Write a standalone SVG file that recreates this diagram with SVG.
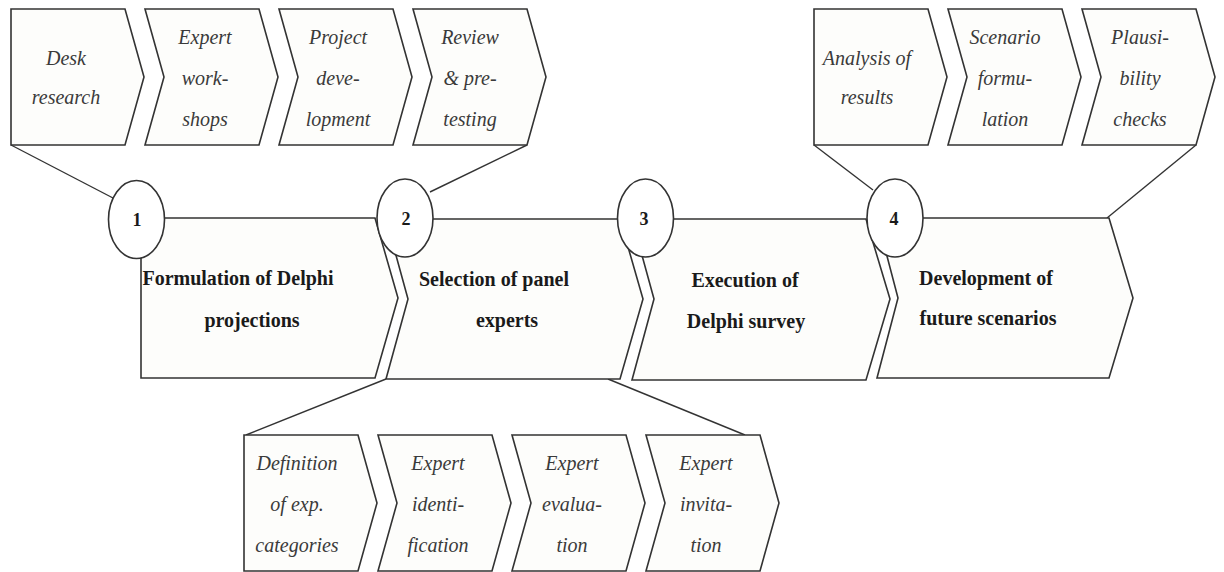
<svg xmlns="http://www.w3.org/2000/svg" width="1224" height="572" viewBox="0 0 1224 572">
<style>
.ch{fill:#fdfdfb;stroke:#333;stroke-width:1.6;stroke-linejoin:miter}
.ci{fill:#fff;stroke:#333;stroke-width:1.6}
.cn{stroke:#333;stroke-width:1.4;fill:none}
.it{font-family:"Liberation Serif","Times New Roman",serif;font-style:italic;font-size:20px;fill:#3a3a3a;text-anchor:middle}
.bd{font-family:"Liberation Serif","Times New Roman",serif;font-weight:bold;font-size:20px;fill:#1a1a1a;text-anchor:middle}
.nm{font-family:"Liberation Serif","Times New Roman",serif;font-weight:bold;font-size:18px;fill:#1a1a1a;text-anchor:middle}
</style>
<rect width="1224" height="572" fill="#fff"/>
<g id="connectors">
<line class="cn" x1="11" y1="145" x2="113" y2="198"/>
<line class="cn" x1="527" y1="145" x2="430" y2="192"/>
<line class="cn" x1="814" y1="145" x2="873" y2="190"/>
<line class="cn" x1="1196" y1="145" x2="1107" y2="218"/>
<line class="cn" x1="386" y1="379" x2="246" y2="435"/>
<line class="cn" x1="608" y1="379" x2="745" y2="435"/>
</g>
<g id="desk-research">
<path class="ch" d="M11,9 H125 L144,77 L125,145 H11 Z"/>
<text class="it" x="66" y="65">Desk</text>
<text class="it" x="66" y="104">research</text>
</g>
<g id="expert-workshops">
<path class="ch" d="M145,9 H259 L278,77 L259,145 H145 L164,77 Z"/>
<text class="it" x="205" y="44">Expert</text>
<text class="it" x="205" y="85">work-</text>
<text class="it" x="205" y="126">shops</text>
</g>
<g id="project-development">
<path class="ch" d="M279,9 H393 L412,77 L393,145 H279 L298,77 Z"/>
<text class="it" x="338" y="44">Project</text>
<text class="it" x="338" y="85">deve-</text>
<text class="it" x="338" y="126">lopment</text>
</g>
<g id="review-pretesting">
<path class="ch" d="M413,9 H527 L546,77 L527,145 H413 L432,77 Z"/>
<text class="it" x="470" y="44">Review</text>
<text class="it" x="470" y="85">&amp; pre-</text>
<text class="it" x="470" y="126">testing</text>
</g>
<g id="analysis-results">
<path class="ch" d="M814,9 H928 L947,77 L928,145 H814 Z"/>
<text class="it" x="867" y="65">Analysis of</text>
<text class="it" x="867" y="104">results</text>
</g>
<g id="scenario-formulation">
<path class="ch" d="M948,9 H1062 L1081,77 L1062,145 H948 L967,77 Z"/>
<text class="it" x="1005" y="44">Scenario</text>
<text class="it" x="1005" y="85">formu-</text>
<text class="it" x="1005" y="126">lation</text>
</g>
<g id="plausibility-checks">
<path class="ch" d="M1082,9 H1196 L1215,77 L1196,145 H1082 L1101,77 Z"/>
<text class="it" x="1140" y="44">Plausi-</text>
<text class="it" x="1140" y="85">bility</text>
<text class="it" x="1140" y="126">checks</text>
</g>
<g id="step1">
<path class="ch" d="M141,218 H375 L398,298 L375,378 H141 Z"/>
<text class="bd" x="238" y="285">Formulation of Delphi</text>
<text class="bd" x="252" y="327">projections</text>
<ellipse class="ci" cx="136.5" cy="219.5" rx="28" ry="39"/>
<text class="nm" x="137" y="226">1</text>
</g>
<g id="step2">
<path class="ch" d="M386,219 H620 L643,299 L620,379 H386 L408,299 Z"/>
<text class="bd" x="494" y="286">Selection of panel</text>
<text class="bd" x="507" y="327">experts</text>
<ellipse class="ci" cx="405" cy="218" rx="28" ry="39"/>
<text class="nm" x="406" y="225">2</text>
</g>
<g id="step3">
<path class="ch" d="M632,219 H866 L890,299 L866,380 H632 L654,299 Z"/>
<text class="bd" x="745" y="287">Execution of</text>
<text class="bd" x="746" y="328">Delphi survey</text>
<ellipse class="ci" cx="645.5" cy="218" rx="28" ry="39"/>
<text class="nm" x="644" y="225">3</text>
</g>
<g id="step4">
<path class="ch" d="M877,218 H1109 L1133,298 L1109,378 H877 L898,298 Z"/>
<text class="bd" x="986" y="285">Development of</text>
<text class="bd" x="988" y="325">future scenarios</text>
<ellipse class="ci" cx="895" cy="218" rx="28" ry="39"/>
<text class="nm" x="894" y="225">4</text>
</g>
<g id="definition-categories">
<path class="ch" d="M244,435 H358 L377,503 L358,571 H244 Z"/>
<text class="it" x="297" y="470">Definition</text>
<text class="it" x="297" y="511">of exp.</text>
<text class="it" x="297" y="552">categories</text>
</g>
<g id="expert-identification">
<path class="ch" d="M378,435 H492 L511,503 L492,571 H378 L397,503 Z"/>
<text class="it" x="438" y="470">Expert</text>
<text class="it" x="438" y="511">identi-</text>
<text class="it" x="438" y="552">fication</text>
</g>
<g id="expert-evaluation">
<path class="ch" d="M512,435 H626 L645,503 L626,571 H512 L531,503 Z"/>
<text class="it" x="572" y="470">Expert</text>
<text class="it" x="572" y="511">evalua-</text>
<text class="it" x="572" y="552">tion</text>
</g>
<g id="expert-invitation">
<path class="ch" d="M646,435 H760 L779,503 L760,571 H646 L665,503 Z"/>
<text class="it" x="706" y="470">Expert</text>
<text class="it" x="706" y="511">invita-</text>
<text class="it" x="706" y="552">tion</text>
</g>
</svg>
